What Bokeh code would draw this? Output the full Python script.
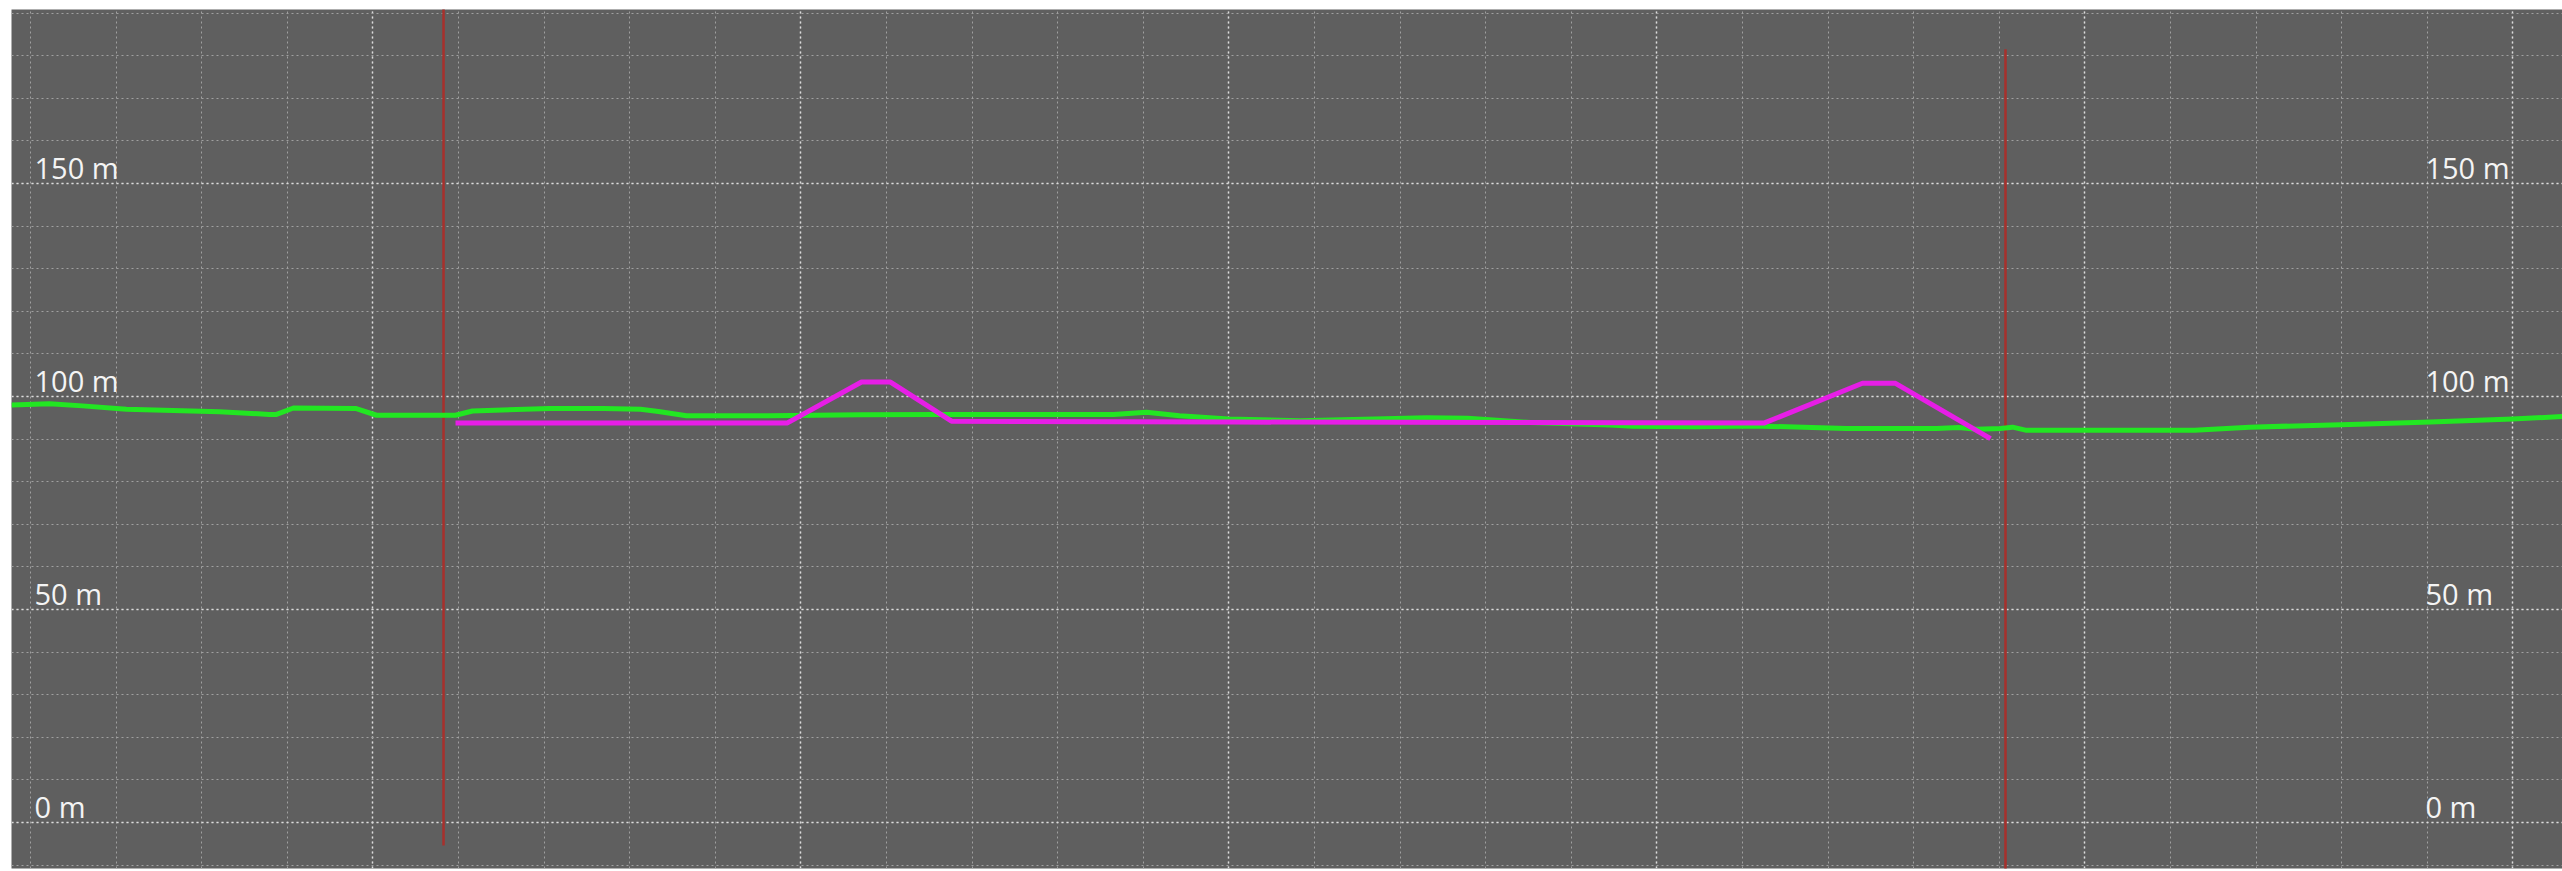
from bokeh.plotting import figure
from bokeh.models import Range1d, Grid, SingleIntervalTicker
from bokeh.core.properties import value
from bokeh.embed import file_html
from bokeh.resources import INLINE

# Terrain elevation profile (distance in m, elevation in m)
terrain_x = [77.8, 122.2, 160.7, 212.1, 320.8, 379.2, 387.4, 407.2, 479.7, 504.2,
             577.8, 596.5, 616.3, 706.3, 769.4, 812.6, 833.6, 866.3, 962.1, 1069.6,
             1160.7, 1365.2, 1403.7, 1442.3, 1499.5, 1583.6, 1730.8, 1778.7, 1852.3,
             1945.8, 1971.5, 2045.1, 2112.8, 2221.5, 2326.6, 2352.3, 2373.3, 2401.4,
             2415.4, 2430.6, 2518.2, 2628.0, 2692.2, 2819.6, 2903.7, 2999.5, 3057.9]
terrain_y = [98.0, 98.3, 97.8, 97.0, 96.4, 95.8, 95.8, 97.3, 97.2, 95.6,
             95.6, 95.6, 96.6, 97.2, 97.2, 97.0, 96.5, 95.5, 95.5, 95.7,
             95.8, 95.8, 96.3, 95.5, 94.7, 94.3, 95.0, 94.9, 93.9,
             93.3, 93.0, 92.9, 93.1, 92.5, 92.5, 92.7, 92.3, 92.5,
             92.8, 92.1, 92.1, 92.1, 92.8, 93.5, 94.0, 94.7, 95.3]

# Planned route profile
route_x = [596.5, 984.3, 1070.8, 1104.6, 1175.9, 1506.5, 2125.7, 2240.1, 2278.7, 2389.7]
route_y = [93.8, 93.8, 103.4, 103.4, 94.2, 94.0, 93.8, 103.1, 103.1, 90.1]

# Vertical marker lines
marker_x = [582.5, 2407.2]
marker_top = [195.0, 181.5]
marker_bottom = [-5.4, -15.0]

# Elevation labels
label_values = [0, 50, 100, 150]
label_texts = ["0 m", "50 m", "100 m", "150 m"]

p = figure(width=2562, height=871, output_backend="svg", toolbar_location=None,
           x_range=Range1d(77.8, 3057.9), y_range=Range1d(-10.8, 190.85),
           x_axis_location=None, y_axis_location=None,
           min_border_left=11, min_border_right=0, min_border_top=9, min_border_bottom=3,
           background_fill_color="#5f5f5f", border_fill_color="white",
           outline_line_color=None)
p.center = []

gx = Grid(dimension=0, ticker=SingleIntervalTicker(interval=500, num_minor_ticks=5),
          grid_line_color="#dcdcdc", grid_line_dash="2 3", grid_line_width=1.5,
          minor_grid_line_color="#a0a0a0", minor_grid_line_dash="2 3", minor_grid_line_width=1)
gy = Grid(dimension=1, ticker=SingleIntervalTicker(interval=50, num_minor_ticks=5),
          grid_line_color="#dcdcdc", grid_line_dash="2 3", grid_line_width=1.5,
          minor_grid_line_color="#a0a0a0", minor_grid_line_dash="2 3", minor_grid_line_width=1)
p.add_layout(gx, "center")
p.add_layout(gy, "center")

p.segment(x0=marker_x, y0=marker_top, x1=marker_x, y1=marker_bottom,
          line_color="#a8302c", line_width=2.5)
p.line(terrain_x, terrain_y, line_color="#22e622", line_width=5, line_join="round")
p.line(route_x, route_y, line_color="#e61ee6", line_width=5, line_join="round")

p.text(x=[104.7] * len(label_values), y=label_values, text=label_texts,
       text_font=value("Open Sans"), text_font_size="29px", text_color="#f4f4f4",
       text_baseline="alphabetic", text_align="left", y_offset=-16)
p.text(x=[2897.8] * len(label_values), y=label_values, text=label_texts,
       text_font=value("Open Sans"), text_font_size="29px", text_color="#f4f4f4",
       text_baseline="alphabetic", text_align="left", y_offset=-16)

open("out.html", "w").write(file_html(p, INLINE))
